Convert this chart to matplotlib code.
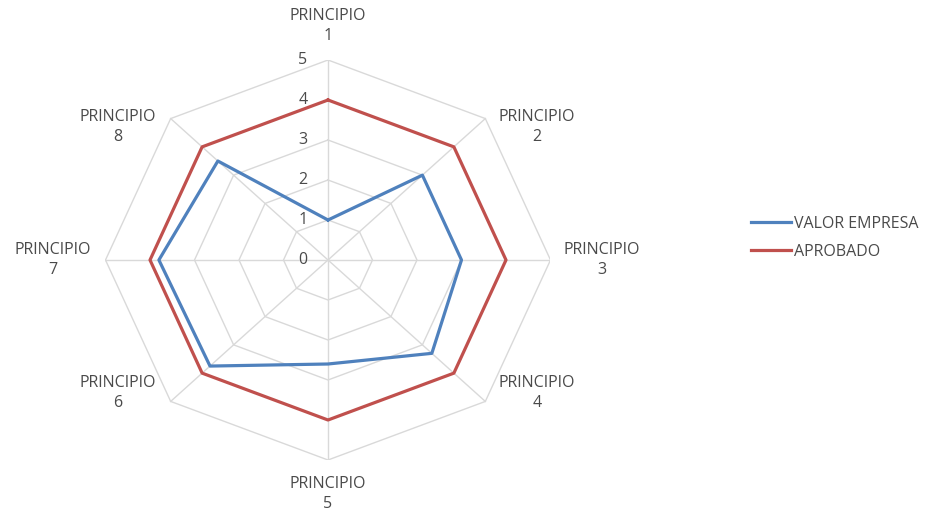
import numpy as np
import matplotlib
matplotlib.use("Agg")
import matplotlib.pyplot as plt

# Radar data: eight principles scored 0-5
categories = ["PRINCIPIO\n1", "PRINCIPIO\n2", "PRINCIPIO\n3", "PRINCIPIO\n4",
              "PRINCIPIO\n5", "PRINCIPIO\n6", "PRINCIPIO\n7", "PRINCIPIO\n8"]
valor_empresa = [1.0, 3.0, 3.0, 3.3, 2.6, 3.75, 3.8, 3.5]
aprobado = [4, 4, 4, 4, 4, 4, 4, 4]
ring_levels = [0, 1, 2, 3, 4, 5]
series_names = ["VALOR EMPRESA", "APROBADO"]

BLUE = "#4F81BD"
RED = "#C0504D"
GRID = "#D9D9D9"
TEXT = "#4A4A4A"
FONT = "Open Sans"
FS = 11.5

n = len(categories)
theta = np.arange(n) * 2 * np.pi / n  # clockwise from top
sin_t, cos_t = np.sin(theta), np.cos(theta)


def to_xy(values):
    v = np.asarray(values, dtype=float)
    x = np.append(v * sin_t, v[0] * sin_t[0])
    y = np.append(v * cos_t, v[0] * cos_t[0])
    return x, y


fig = plt.figure(figsize=(9.29, 5.14), dpi=100)
ax = fig.add_axes([105.5 / 929, 54 / 514, 445 / 929, 400 / 514])
rmax = max(ring_levels)
ax.set_xlim(-rmax, rmax)
ax.set_ylim(-rmax, rmax)
ax.set_aspect("auto")
ax.axis("off")

# Octagonal grid rings and spokes
for lvl in ring_levels[1:]:
    gx, gy = to_xy([lvl] * n)
    ax.plot(gx, gy, color=GRID, lw=1.0, zorder=1)
for s, c in zip(sin_t, cos_t):
    ax.plot([0, rmax * s], [0, rmax * c], color=GRID, lw=1.0, zorder=1)

# Radial tick labels along the top spoke
for lvl in ring_levels:
    ax.annotate(str(lvl), (0, lvl), xytext=(-18, 0), textcoords="offset points",
                ha="center", va="center", fontsize=FS, color=TEXT, family=FONT)

# Series
bx, by = to_xy(valor_empresa)
ax.plot(bx, by, color=BLUE, lw=2.3, zorder=3, label=series_names[0])
rx, ry = to_xy(aprobado)
ax.plot(rx, ry, color=RED, lw=2.3, zorder=3, label=series_names[1])

# Category labels just outside the outer ring
for lab, s, c in zip(categories, sin_t, cos_t):
    sx = np.sign(np.round(s, 6))
    sc = np.sign(np.round(c, 6))
    if sx == 0:
        dx, dy = 0, 24.5 * sc
    else:
        dx = (37 if sx > 0 else 38) * sx
        dy = -6 * sc
    ax.annotate(lab, (rmax * s, rmax * c), xytext=(dx, dy),
                textcoords="offset points", ha="center", va="center",
                fontsize=FS, color=TEXT, family=FONT, linespacing=1.35,
                multialignment="center")

leg = fig.legend(loc="center left", bbox_to_anchor=(737 / 929, 1 - 238 / 514),
                 frameon=False, handlelength=2.5, handletextpad=0.15,
                 labelspacing=0.75, prop={"family": FONT, "size": FS})
for t in leg.get_texts():
    t.set_color(TEXT)

fig.savefig("out.png", dpi=100)
